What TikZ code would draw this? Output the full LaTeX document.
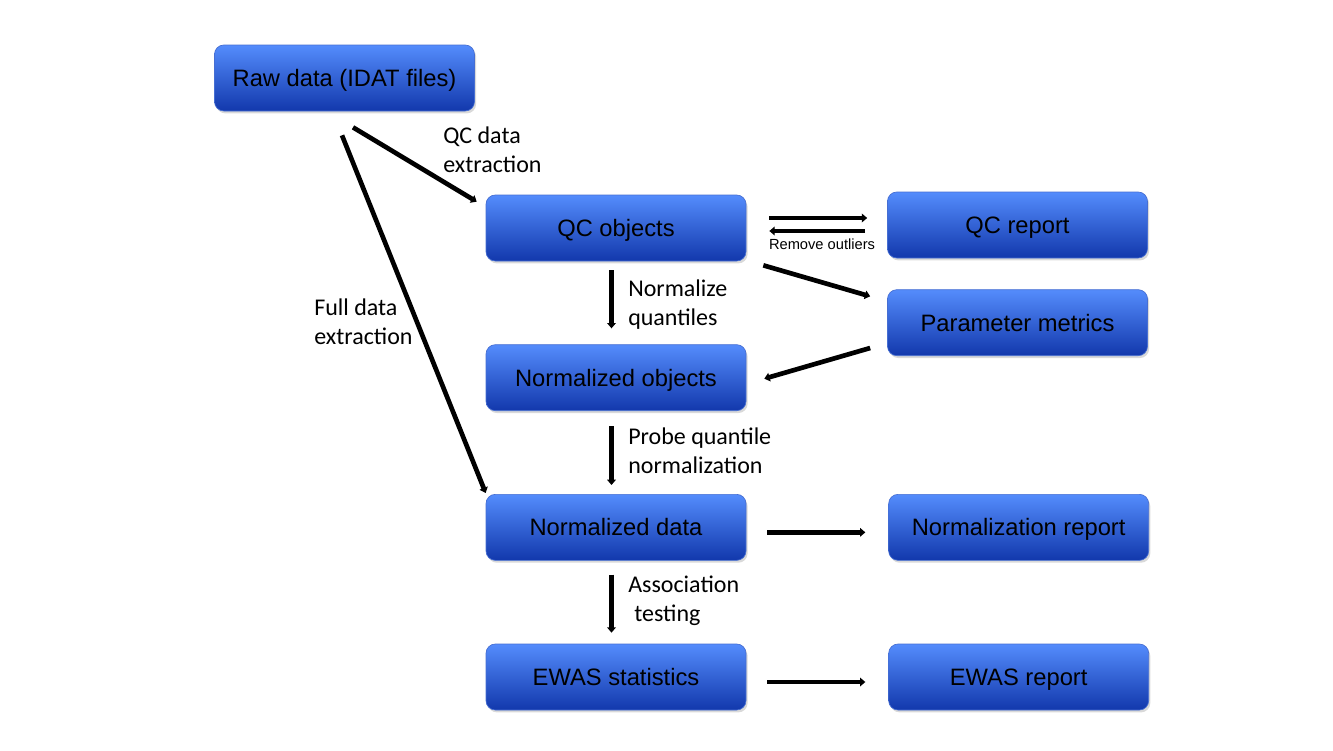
\documentclass[tikz,border=0pt]{standalone}
\usepackage{fontspec}
\setmainfont{Carlito}
\newfontfamily\boxfont{Liberation Sans}
\usepackage{tikz}
\usetikzlibrary{arrows.meta,positioning,calc,shadows}
\definecolor{boxtop}{RGB}{84,140,252}
\definecolor{boxbot}{RGB}{18,56,172}
\definecolor{boxedge}{RGB}{70,110,210}

\begin{document}
\begin{tikzpicture}[x=0.75pt, y=-0.75pt, box/.style={draw=boxedge, line width=0.5pt, top color=boxtop, bottom color=boxbot, rounded corners=7pt, minimum width=195pt, minimum height=49.5pt, inner sep=2pt, text height=16pt, text depth=3.2pt, font=\boxfont\fontsize{17.8}{21}\selectfont, drop shadow={shadow xshift=1.2pt, shadow yshift=-1.8pt, opacity=0.3}}, lbl/.style={align=left, anchor=west, inner sep=0pt, font=\fontsize{18}{22}\selectfont}, arr/.style={-{Triangle[length=4pt, width=6.5pt]}, line width=3.5pt}]
\useasboundingbox (0,0) rectangle (1333,750);
\node[box] (raw) at (344.5,78) {Raw data (IDAT files)};
\node[box] (qcobj) at (616,228) {QC objects};
\node[box, below=62.25pt of qcobj] (normobj) {Normalized objects};
\node[box, below=62.25pt of normobj] (normdata) {Normalized data};
\node[box, below=62.25pt of normdata] (ewas) {EWAS statistics};
\node[box] (qcrep) at (1017.5,225) {QC report};
\node[box, below=23.25pt of qcrep] (param) {Parameter metrics};
\node[box, right=106.5pt of normdata] (normrep) {Normalization report};
\node[box, right=106.5pt of ewas] (ewasrep) {EWAS report};
\node[lbl] (qclbl) at (443,150) {QC data\\extraction};
\node[lbl] (fulllbl) at (314,322) {Full data\\extraction};
\node[lbl] (normlbl) at (628,304.5) {Normalize\\quantiles};
\node[lbl] (probelbl) at (628,450.5) {Probe quantile\\normalization};
\node[lbl] (assoclbl) at (628,600.5) {Association\\\hspace*{4.5pt}testing};
\node[lbl, anchor=center, font=\boxfont\fontsize{11}{13}\selectfont] (outlbl) at (822,244) {Remove outliers};
\draw[arr] ($(raw.south)+(8.5,16)$) -- ($(qcobj.north west)+(-9,7)$);
\draw[arr] ($(raw.south)+(-2.5,24)$) -- ($(normdata.north west)+(0,-1)$);
\draw[arr] ($(qcobj.east)+(23,-10)$) -- ($(qcrep.west)+(-20,-7)$);
\draw[arr] ($(qcrep.west)+(-22,6)$) -- ($(qcobj.east)+(23,3)$);
\draw[arr] ($(qcobj.south east)+(17,4)$) -- ($(param.north west)+(-17,7)$);
\draw[arr] ($(param.south west)+(-17,-8)$) -- ($(normobj.east)+(18,1)$);
\draw[arr] ($(qcobj.south)+(-4.5,9)$) -- ($(normobj.north)+(-4.5,-16)$);
\draw[arr] ($(normobj.south)+(-4.5,15)$) -- ($(normdata.north)+(-4.5,-9)$);
\draw[arr] ($(normdata.south)+(-4.5,14)$) -- ($(ewas.north)+(-4.5,-11)$);
\draw[arr] ($(normdata.east)+(21,5)$) -- ($(normrep.west)+(-23,5)$);
\draw[arr] ($(ewas.east)+(21,5)$) -- ($(ewasrep.west)+(-23,5)$);
\end{tikzpicture}
\end{document}
